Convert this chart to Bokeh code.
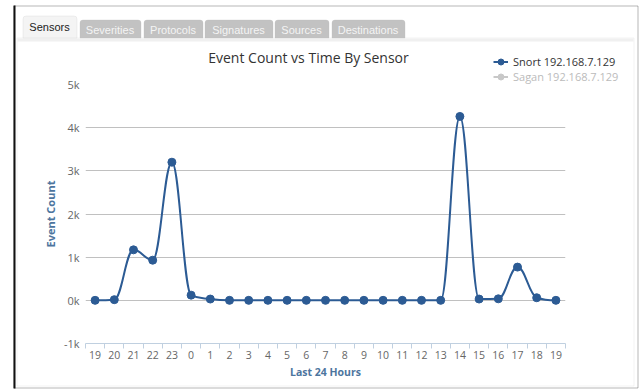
from bokeh.plotting import figure
from bokeh.models import (FixedTicker, Label, BoxAnnotation, Legend, LegendItem,
                          Range1d, ColumnDataSource)
from bokeh.embed import file_html
from bokeh.resources import INLINE

# ---------------- data ----------------
hours = ["19", "20", "21", "22", "23", "0", "1", "2", "3", "4", "5", "6", "7",
         "8", "9", "10", "11", "12", "13", "14", "15", "16", "17", "18", "19"]
snort = [0, 15, 1170, 930, 3200, 120, 30, 0, 0, 0, 0, 0, 0,
         0, 0, 0, 0, 0, 0, 4260, 30, 35, 770, 60, 0]
y_ticks = [-1000, 0, 1000, 2000, 3000, 4000, 5000]
y_tick_labels = ["-1k", "0k", "1k", "2k", "3k", "4k", "5k"]
series_names = ["Snort 192.168.7.129", "Sagan 192.168.7.129"]
tab_names = ["Sensors", "Severities", "Protocols", "Signatures", "Sources", "Destinations"]
chart_title = "Event Count vs Time By Sensor"
y_title = "Event Count"
x_title = "Last 24 Hours"

# ---------------- styling ----------------
W, H = 640, 389
FL, FR, FT, FB = 85, 565, 84, 343
SERIES = "#2c5b94"
HIDDEN = "#c8c8c8"
FONT = "Open Sans"
AXIS_TITLE = "#4d759e"
OVERLAY = {"position": "absolute", "left": "0px", "top": "0px"}


def spline(xs, ys, smoothing=1.5):
    n = len(xs)
    denom = smoothing + 1
    left = [None] * n
    right = [None] * n
    for i in range(1, n - 1):
        px, py = xs[i], ys[i]
        lx, ly = xs[i - 1], ys[i - 1]
        nx, ny = xs[i + 1], ys[i + 1]
        lcx = (smoothing * px + lx) / denom
        lcy = (smoothing * py + ly) / denom
        rcx = (smoothing * px + nx) / denom
        rcy = (smoothing * py + ny) / denom
        corr = ((rcy - lcy) * (rcx - px)) / (rcx - lcx) + py - rcy
        lcy += corr
        rcy += corr
        if lcy > ly and lcy > py:
            lcy = max(ly, py); rcy = 2 * py - lcy
        elif lcy < ly and lcy < py:
            lcy = min(ly, py); rcy = 2 * py - lcy
        if rcy > ny and rcy > py:
            rcy = max(ny, py); lcy = 2 * py - rcy
        elif rcy < ny and rcy < py:
            rcy = min(ny, py); lcy = 2 * py - rcy
        left[i] = (lcx, lcy)
        right[i] = (rcx, rcy)
    d = dict(x0=[], y0=[], x1=[], y1=[], cx0=[], cy0=[], cx1=[], cy1=[])
    for i in range(1, n):
        c0 = right[i - 1] if right[i - 1] is not None else (xs[i - 1], ys[i - 1])
        c1 = left[i] if left[i] is not None else (xs[i], ys[i])
        d["x0"].append(xs[i - 1]); d["y0"].append(ys[i - 1])
        d["x1"].append(xs[i]); d["y1"].append(ys[i])
        d["cx0"].append(c0[0]); d["cy0"].append(c0[1])
        d["cx1"].append(c1[0]); d["cy1"].append(c1[1])
    return d


# ======== background page: tabs, panel, title, legend ========
bg = figure(width=W, height=H, x_range=Range1d(0, W), y_range=Range1d(H, 0),
            output_backend="svg", toolbar_location=None,
            x_axis_type=None, y_axis_type=None,
            min_border=0, min_border_left=0, min_border_right=0,
            min_border_top=0, min_border_bottom=0,
            background_fill_color="white", border_fill_color="white",
            outline_line_color=None, styles=OVERLAY)
bg.grid.visible = False


def box(l, r, t, b, **kw):
    bg.add_layout(BoxAnnotation(left=l, right=r, top=t, bottom=b, **kw))


# outer dark frame
box(13.5, 637.5, 5.5, 387.5, fill_alpha=0, line_color="#111111", line_width=1)
box(13, 15, 5, 388, fill_color="#111111", fill_alpha=1, line_alpha=0)
# content panel
box(16.5, 633.5, 37.5, 385.5, fill_alpha=0, line_color="#d4d4d4", line_width=1)
box(17, 633, 38, 41, fill_color="#f0f0f0", fill_alpha=1, line_alpha=0)

tab_bounds = [(22, 76), (79, 140), (143, 202), (204, 272), (274, 328), (331, 404)]
for i, (name, (l, r)) in enumerate(zip(tab_names, tab_bounds)):
    active = i == 0
    top = 15 if active else 19
    box(l + 0.5, r + 0.5, top + 0.5, 37.5,
        fill_color="#f4f4f4" if active else "#c2c2c2", fill_alpha=1,
        line_color="#d0d0d0" if active else "#bababa", line_width=1,
        border_radius=(3, 3, 0, 0))
    bg.add_layout(Label(x=(l + r) / 2, y=26 if active else 29, text=name,
                        text_align="center", text_baseline="middle",
                        text_font="Liberation Sans", text_font_size="11px",
                        text_color="#222222" if active else "#f4f4f4"))

bg.add_layout(Label(x=308, y=57, text=chart_title, text_align="center",
                    text_baseline="middle", text_font=FONT,
                    text_font_size="14px", text_color="#333333"))

# legend (proxy renderers, kept off-canvas, carry the series styling)
r_snort_line = bg.line([-100, -90], [-100, -100], line_color=SERIES, line_width=2)
r_snort_pts = bg.scatter([-100], [-100], size=8, fill_color=SERIES, line_color=SERIES)
r_sagan_line = bg.line([-100, -90], [-100, -100], line_color=HIDDEN, line_width=2)
r_sagan_pts = bg.scatter([-100], [-100], size=7, fill_color=HIDDEN, line_color=HIDDEN)
for i, (name, rends, col) in enumerate([
        (series_names[0], [r_snort_line, r_snort_pts], "#333333"),
        (series_names[1], [r_sagan_line, r_sagan_pts], "#bbbbbb")]):
    bg.add_layout(Legend(items=[LegendItem(label=name, renderers=rends)],
                         location=(493, H - (68.5 + 15 * i)),
                         label_text_font=FONT, label_text_font_size="11px",
                         label_text_color=col, glyph_width=15, glyph_height=15,
                         label_height=15, label_standoff=5, spacing=0,
                         padding=0, margin=0, background_fill_alpha=0,
                         border_line_alpha=0))

# ======== chart ========
xs = list(range(len(hours)))

p = figure(width=W, height=H, x_range=Range1d(-0.5, len(hours) - 0.5),
           y_range=Range1d(y_ticks[0], y_ticks[-1]),
           output_backend="svg", toolbar_location=None,
           min_border_left=FL, min_border_right=W - FR,
           min_border_top=FT, min_border_bottom=H - FB,
           background_fill_alpha=0, border_fill_alpha=0,
           outline_line_color=None, styles=OVERLAY)

xa = p.xaxis[0]
xa.ticker = FixedTicker(ticks=xs, minor_ticks=[i - 0.5 for i in range(len(hours) + 1)])
xa.major_label_overrides = {i: h for i, h in enumerate(hours)}
xa.major_tick_line_color = None
xa.major_tick_in = 0
xa.major_tick_out = 0
xa.minor_tick_in = 0
xa.minor_tick_out = 5
xa.minor_tick_line_color = "#c0d0e0"
xa.axis_line_color = "#c0d0e0"
xa.major_label_standoff = 2
xa.major_label_text_font = FONT
xa.major_label_text_font_size = "10.5px"
xa.major_label_text_color = "#666666"
xa.axis_label = x_title
xa.axis_label_text_font = FONT
xa.axis_label_text_font_size = "10.5px"
xa.axis_label_text_font_style = "bold"
xa.axis_label_text_color = AXIS_TITLE
xa.axis_label_standoff = 3

ya = p.yaxis[0]
ya.ticker = FixedTicker(ticks=y_ticks)
ya.major_label_overrides = {t: l for t, l in zip(y_ticks, y_tick_labels)}
ya.axis_line_color = None
ya.major_tick_line_color = None
ya.minor_tick_line_color = None
ya.major_tick_in = 0
ya.major_tick_out = 0
ya.major_label_standoff = 6
ya.major_label_text_font = FONT
ya.major_label_text_font_size = "11px"
ya.major_label_text_color = "#666666"
ya.axis_label = y_title
ya.axis_label_text_font = FONT
ya.axis_label_text_font_size = "11px"
ya.axis_label_text_font_style = "bold"
ya.axis_label_text_color = AXIS_TITLE
ya.axis_label_standoff = 3

p.xgrid.visible = False
p.ygrid.ticker = FixedTicker(ticks=y_ticks[1:])
p.ygrid.grid_line_color = "#c0c0c0"

src = ColumnDataSource(spline(xs, snort))
p.bezier(x0="x0", y0="y0", x1="x1", y1="y1", cx0="cx0", cy0="cy0",
         cx1="cx1", cy1="cy1", source=src, line_color=SERIES, line_width=2)
p.scatter(xs, snort, size=8, fill_color=SERIES, line_color=SERIES)

# background page first, transparent chart stacked on top of it
open("out.html", "w").write(file_html([bg, p], INLINE))
